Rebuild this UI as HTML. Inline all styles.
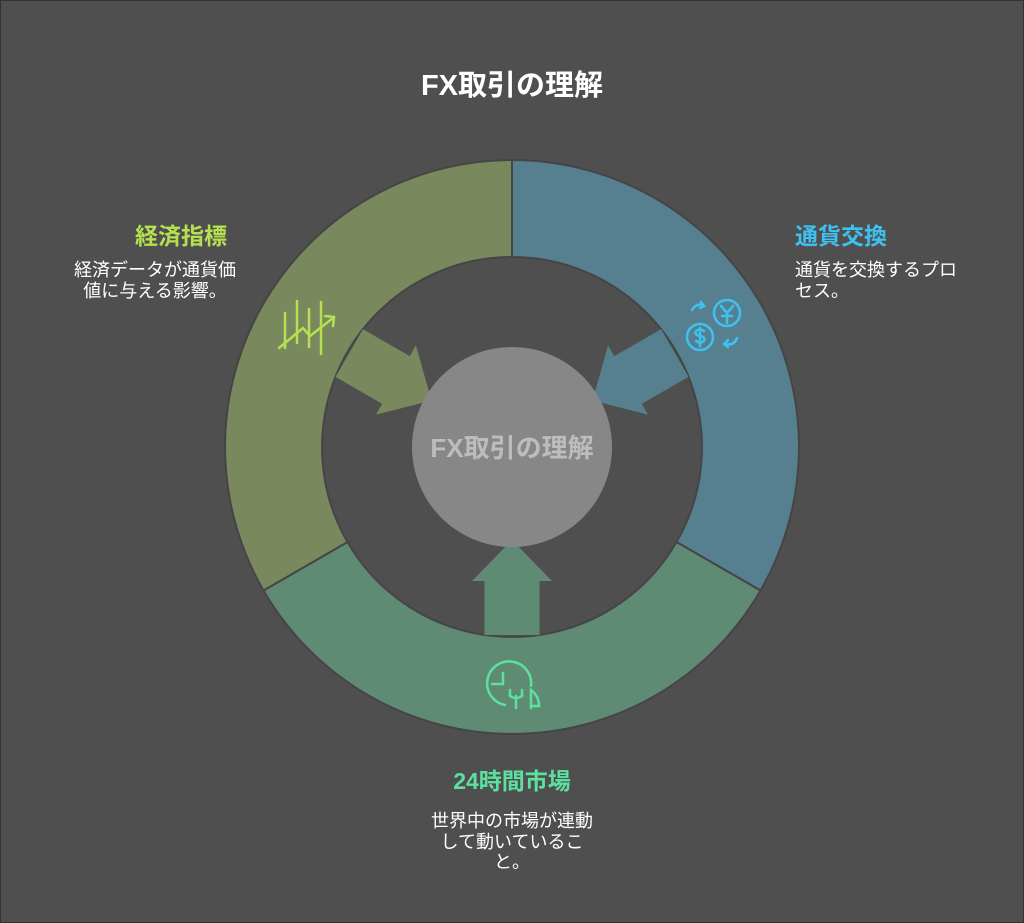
<!DOCTYPE html>
<html><head><meta charset="utf-8"><style>
html,body{margin:0;padding:0}
body{width:1024px;height:923px;background:#4f4f4f;position:relative;overflow:hidden;font-family:"Liberation Sans","Noto Sans CJK JP",sans-serif;}
.frame{position:absolute;left:0;top:0;width:1022px;height:921px;border:1px solid #333;}
.t{position:absolute;color:#fff;white-space:nowrap;}
</style></head><body>
<div class="frame"></div>
<svg width="1024" height="923" style="position:absolute;left:0;top:0">
<g stroke="#454545" stroke-width="2">
<path d="M512,160 A287,287 0 0 1 760.5,590.5 L676.5,542 A190,190 0 0 0 512,257 Z" fill="#56808f"/>
<path d="M760.5,590.5 A287,287 0 0 1 263.5,590.5 L347.5,542 A190,190 0 0 0 676.5,542 Z" fill="#5f8b74"/>
<path d="M263.5,590.5 A287,287 0 0 1 512,160 L512,257 A190,190 0 0 0 347.5,542 Z" fill="#7a885e"/>
</g>
<g transform="translate(512,447)">
<polygon points="0,93 40,134 27.5,134 27.5,188 -27.5,188 -27.5,134 -40,134" fill="#5f8b74"/>
<polygon transform="rotate(120)" points="0,93 40,134 27.5,134 27.5,188 -27.5,188 -27.5,134 -40,134" fill="#7a885e"/>
<polygon transform="rotate(-120)" points="0,93 40,134 27.5,134 27.5,188 -27.5,188 -27.5,134 -40,134" fill="#56808f"/>
<circle r="100" fill="#878787"/>
</g>
<g stroke="#b5e04f" stroke-width="2.5" fill="none" stroke-linecap="round">
<line x1="285" y1="313" x2="285" y2="348"/><line x1="297" y1="301" x2="297" y2="343"/>
<line x1="309" y1="309" x2="309" y2="347"/><line x1="321" y1="302" x2="321" y2="354"/>
<polyline points="279,348 303,328 310,336 333,318"/><polyline points="325,316 334,317 333,326"/>
</g>
<g stroke="#3fc1f0" stroke-width="2.5" fill="none" stroke-linecap="round">
<circle cx="727" cy="313" r="13"/><circle cx="700" cy="337" r="13"/>
<path d="M721,306 l6,7 l6,-7 M727,313 v10 M722,316 h10"/>
<path d="M704,331 q-4,-3 -8,0 q-2,4 4,5 q6,1 4,5 q-4,3 -8,0 M700,328 v18"/>
<path d="M692,310 q5,-8 12,-4 M701,302 l3,4 l-4,2"/>
<path d="M737,338 q-3,8 -12,6 M728,340 l-4,4 l4,3"/>
</g>
<g stroke="#5ce0a0" stroke-width="2.5" fill="none" stroke-linecap="round">
<path d="M505,705 A22,22 0 1 1 531,686"/>
<path d="M503,673 v11 h-11"/>
<path d="M510,690 v6 q6,4 12,0 v-6 M516,696 v12"/>
<path d="M531,708 v-18 q8,6 8,16 h-8"/>
</g>
<text x="512" y="457" text-anchor="middle" font-size="26" font-weight="bold" fill="#bdbdbd" font-family="Liberation Sans,Noto Sans CJK JP,sans-serif">FX取引の理解</text>
</svg>
<div class="t" style="left:0;width:1024px;top:62px;text-align:center;font-size:29px;font-weight:bold;">FX取引の理解</div>
<div class="t" style="left:81px;width:200px;top:217px;text-align:center;font-size:23px;font-weight:bold;color:#b5e04f;">経済指標</div>
<div class="t" style="left:55px;width:200px;top:260px;text-align:center;font-size:18px;line-height:21px;">経済データが通貨価<br>値に与える影響。</div>
<div class="t" style="left:795px;top:217px;font-size:23px;font-weight:bold;color:#3fc1f0;">通貨交換</div>
<div class="t" style="left:795px;top:260px;font-size:18px;line-height:21px;">通貨を交換するプロ<br>セス。</div>
<div class="t" style="left:412px;width:200px;top:762px;text-align:center;font-size:23px;font-weight:bold;color:#5ce0a0;">24時間市場</div>
<div class="t" style="left:412px;width:200px;top:811px;text-align:center;font-size:18px;line-height:20.5px;">世界中の市場が連動<br>して動いているこ<br>と。</div>
</body></html>
